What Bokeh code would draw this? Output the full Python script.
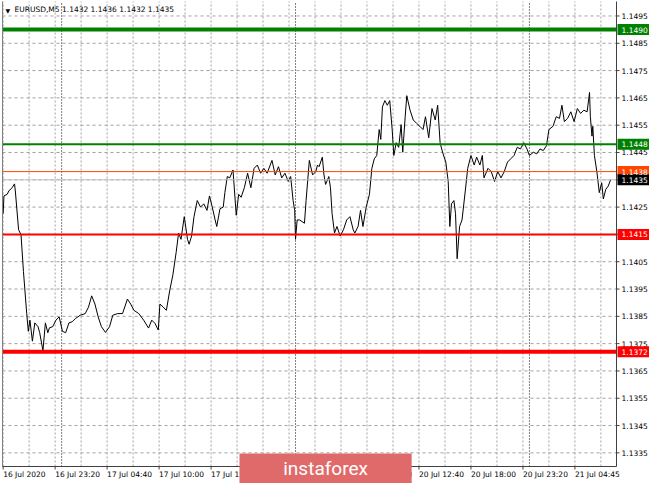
from bokeh.plotting import figure
from bokeh.models import Range1d
from bokeh.core.properties import value
from bokeh.embed import file_html
from bokeh.resources import INLINE

# ---- data (5-minute bar index -> close price) ----
bar_index = [0, 1, 5, 7, 11, 14, 15, 19, 22, 25, 29, 31, 33, 36, 39, 43, 45, 49, 52, 55,
             57, 61, 65, 69, 73, 77, 81, 85, 89, 95, 101, 105, 109, 113, 117, 121, 126, 131, 135, 141,
             147, 153, 157, 161, 167, 173, 179, 183, 187, 191, 193, 197, 201, 205, 209, 213, 216, 219, 223, 227,
             229, 232, 235, 239, 243, 247, 251, 254, 257, 261, 263, 267, 271, 273, 276, 279, 283, 287, 290, 293,
             297, 301, 305, 309, 313, 317, 321, 325, 331, 335, 339, 343, 347, 351, 354, 357, 359, 360, 362, 365,
             371, 373, 377, 381, 385, 387, 389, 393, 395, 397, 401, 403, 405, 408, 411, 415, 419, 423, 427, 431,
             433, 437, 440, 443, 447, 451, 454, 457, 460, 463, 465, 467, 470, 473, 476, 479, 481, 484, 487, 490,
             492, 495, 497, 501, 505, 509, 513, 517, 520, 524, 528, 532, 535, 538, 541, 545, 548, 550, 552, 555,
             557, 559, 562, 565, 569, 572, 576, 580, 583, 587, 590, 592, 597, 601, 605, 609, 613, 617, 621, 625,
             629, 633, 637, 641, 645, 648, 653, 657, 661, 665, 669, 672, 677, 681, 685, 688, 691, 695, 699, 703,
             707, 711, 715, 719, 722, 723, 725, 726, 728, 731, 734, 737, 739, 742, 745, 748]
close = [1.14226, 1.14291, 1.14297, 1.14309, 1.14321, 1.14335, 1.14309, 1.14167, 1.14149, 1.14014,
         1.13861, 1.13795, 1.13836, 1.13759, 1.13826, 1.13812, 1.13790, 1.13724, 1.13826, 1.13790,
         1.13808, 1.13812, 1.13836, 1.13848, 1.13795, 1.13790, 1.13826, 1.13830, 1.13842, 1.13854,
         1.13860, 1.13883, 1.13925, 1.13895, 1.13848, 1.13812, 1.13791, 1.13812, 1.13854, 1.13860,
         1.13860, 1.13913, 1.13895, 1.13872, 1.13860, 1.13836, 1.13807, 1.13836, 1.13824, 1.13800,
         1.13895, 1.13884, 1.13872, 1.13943, 1.14002, 1.14084, 1.14155, 1.14132, 1.14215, 1.14132,
         1.14114, 1.14144, 1.14215, 1.14274, 1.14250, 1.14262, 1.14238, 1.14291, 1.14256, 1.14203,
         1.14179, 1.14244, 1.14250, 1.14303, 1.14362, 1.14357, 1.14386, 1.14220, 1.14297, 1.14286,
         1.14321, 1.14374, 1.14321, 1.14392, 1.14404, 1.14374, 1.14392, 1.14374, 1.14421, 1.14368,
         1.14398, 1.14357, 1.14374, 1.14344, 1.14362, 1.14274, 1.14238, 1.14132, 1.14203, 1.14203,
         1.14191, 1.14274, 1.14421, 1.14368, 1.14380, 1.14404, 1.14398, 1.14433, 1.14368, 1.14333,
         1.14362, 1.14321, 1.14226, 1.14155, 1.14179, 1.14144, 1.14167, 1.14203, 1.14215, 1.14167,
         1.14155, 1.14179, 1.14238, 1.14179, 1.14250, 1.14297, 1.14392, 1.14427, 1.14439, 1.14534,
         1.14498, 1.14617, 1.14640, 1.14623, 1.14640, 1.14534, 1.14439, 1.14486, 1.14469, 1.14552,
         1.14451, 1.14581, 1.14658, 1.14605, 1.14569, 1.14557, 1.14546, 1.14534, 1.14581, 1.14504,
         1.14611, 1.14569, 1.14623, 1.14486, 1.14451, 1.14415, 1.14344, 1.14179, 1.14262, 1.14274,
         1.14226, 1.14061, 1.14179, 1.14203, 1.14309, 1.14392, 1.14439, 1.14404, 1.14433, 1.14404,
         1.14439, 1.14357, 1.14392, 1.14380, 1.14344, 1.14380, 1.14357, 1.14380, 1.14415, 1.14427,
         1.14439, 1.14469, 1.14463, 1.14486, 1.14463, 1.14439, 1.14451, 1.14445, 1.14463, 1.14457,
         1.14475, 1.14534, 1.14546, 1.14581, 1.14575, 1.14623, 1.14563, 1.14575, 1.14599, 1.14563,
         1.14611, 1.14593, 1.14605, 1.14599, 1.14670, 1.14581, 1.14510, 1.14546, 1.14439, 1.14380,
         1.14303, 1.14339, 1.14280, 1.14315, 1.14327, 1.14350]

price_ticks = [1.1335, 1.1345, 1.1355, 1.1365, 1.1375, 1.1385, 1.1395, 1.1405, 1.1415,
               1.1425, 1.1435, 1.1445, 1.1455, 1.1465, 1.1475, 1.1485, 1.1495]
price_tick_labels = ["1.1335", "1.1345", "1.1355", "1.1365", "1.1375", "1.1385", "1.1395",
                     "1.1405", "1.1415", "1.1425", "1.1435", "1.1445", "1.1455", "1.1465",
                     "1.1475", "1.1485", "1.1495"]
grid_bars = [0, 32, 64, 96, 128, 160, 192, 224, 256, 288, 320, 352, 384, 416, 448, 480,
             512, 544, 576, 608, 640, 672, 704, 736]
time_tick_bars = [0, 64, 128, 192, 256, 320, 384, 448, 512, 576, 640, 704]
time_tick_labels = ["16 Jul 2020", "16 Jul 23:20", "17 Jul 04:40", "17 Jul 10:00",
                    "17 Jul 15:20", "17 Jul 20:40", "20 Jul 02:00", "20 Jul 07:20",
                    "20 Jul 12:40", "20 Jul 18:00", "20 Jul 23:20", "21 Jul 04:45"]
day_separator_bars = [72, 360, 648]

level_prices = [1.1490, 1.1448, 1.1438, 1.1435, 1.1415, 1.1372]
level_labels = ["1.1490", "1.1448", "1.1438", "1.1435", "1.1415", "1.1372"]
level_colors = ["#008000", "#008000", "#ff4500", "#c0c0c0", "#ff0000", "#ff0000"]
level_box_colors = ["#008000", "#008000", "#ff4500", "#000000", "#ff0000", "#ff0000"]
level_widths = [4, 2, 1, 1, 2, 4]

header_symbol = "EURUSD,M5"
header_ohlc = "1.1432 1.1436 1.1432 1.1435"
watermark_text = "instaforex"

# ---- layout (pixels) ----
FONT = value("DejaVu Sans")
FS = "7.5px"
W, H = 649, 483
PL, PR, PT, PB = 2, 616, 1, 466          # chart area inside the canvas
X0, X1 = -0.8, 755.2                      # bars shown in the chart area
Y0, Y1 = 1.1330, 1.15003                  # prices shown in the chart area
DX = (X1 - X0) / (PR - PL)
DY = (Y1 - Y0) / (PB - PT)

p = figure(width=W, height=H,
           x_range=Range1d(X0 - PL * DX, X1 + (W - PR) * DX),
           y_range=Range1d(Y0 - (H - PB) * DY, Y1 + PT * DY),
           x_axis_location=None, y_axis_location=None,
           output_backend="svg", toolbar_location=None,
           min_border=0, outline_line_color=None)
p.grid.visible = False
p.background_fill_color = "white"
p.border_fill_color = "white"

n_pt = len(price_ticks)
n_tt = len(time_tick_bars)
GRID = "#a0a0a0"

# grid (dashed, light grey)
p.multi_line(xs=[[X0, X1] for _ in price_ticks], ys=[[v, v] for v in price_ticks],
             line_color=GRID, line_dash="3 3", line_width=1)
p.multi_line(xs=[[b, b] for b in grid_bars], ys=[[Y0, Y1] for _ in grid_bars],
             line_color=GRID, line_dash="2 2", line_width=1)

# day separators
p.segment(x0=day_separator_bars, y0=[Y0] * 3, x1=day_separator_bars, y1=[Y1] * 3,
          line_color="black", line_dash="1 2", line_width=1)

# price line
p.line(bar_index, close, line_color="black", line_width=1)

# horizontal levels
nl = len(level_prices)
p.segment(x0=[X0] * nl, y0=level_prices, x1=[X1] * nl, y1=level_prices,
          line_color=level_colors, line_width=level_widths)

# chart frame: left border, right price scale line, bottom time scale line
p.segment(x0=[X0], y0=[Y0], x1=[X0], y1=[Y1], line_color="#808080", line_width=1)
p.segment(x0=[X1, X0], y0=[Y0, Y0], x1=[X1, X1], y1=[Y1, Y0], line_color="#404040", line_width=1)

# price scale: ticks and labels
p.segment(x0=[X1] * n_pt, y0=price_ticks, x1=[X1 + 3 * DX] * n_pt, y1=price_ticks,
          line_color="#404040", line_width=1)
p.text(x=[X1 + 5 * DX] * n_pt, y=price_ticks, text=price_tick_labels,
       text_font=FONT, text_font_size=FS, text_color="black",
       text_align="left", text_baseline="middle")

# level price boxes on the price scale
p.quad(left=[X1 + 1 * DX] * nl, right=[X1 + (W - PR) * DX] * nl,
       bottom=[v - 5.5 * DY for v in level_prices], top=[v + 5.5 * DY for v in level_prices],
       fill_color=level_box_colors, line_color=None)
p.text(x=[X1 + 5 * DX] * nl, y=level_prices, text=level_labels,
       text_font=FONT, text_font_size=FS, text_color="white",
       text_align="left", text_baseline="middle")

# time scale: ticks and left-aligned labels
p.segment(x0=time_tick_bars, y0=[Y0] * n_tt, x1=time_tick_bars, y1=[Y0 - 3 * DY] * n_tt,
          line_color="#404040", line_width=1)
p.text(x=time_tick_bars, y=[Y0 - 3 * DY] * n_tt, text=time_tick_labels,
       text_font=FONT, text_font_size=FS, text_color="black",
       text_align="left", text_baseline="top")

# header
p.text(x=[X0 + 3 * DX], y=[Y1 - 5 * DY], text=["\u25bc"], text_font=FONT,
       text_font_size="6px", text_color="black", text_align="left", text_baseline="top")
p.text(x=[X0 + 12 * DX], y=[Y1 - 3 * DY], text=[header_symbol + " " + header_ohlc],
       text_font=FONT, text_font_size=FS, text_color="black",
       text_align="left", text_baseline="top")

# watermark
p.quad(left=[291], right=[503], bottom=[Y0 - (H - PB) * DY], top=[Y0 + 13 * DY],
       fill_color="#e06a6a", line_color=None)
p.text(x=[397], y=[Y0 - 1.5 * DY], text=[watermark_text], text_font=value("Roboto"),
       text_font_size="19px", text_color="white", text_align="center", text_baseline="middle")

open("out.html", "w").write(file_html(p, INLINE))
